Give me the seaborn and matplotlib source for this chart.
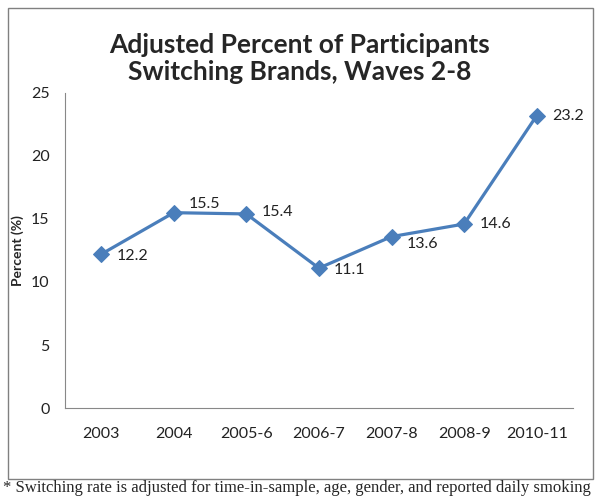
import pandas as pd
import matplotlib.pyplot as plt
import matplotlib.patches as patches
import seaborn as sns

# Values
waves = ['2003', '2004', '2005-6', '2006-7', '2007-8', '2008-9', '2010-11']
percent = [12.2, 15.5, 15.4, 11.1, 13.6, 14.6, 23.2]
label_dy = [-1.5, 6.5, 1.5, -1, -5, 0, 0]

df = pd.DataFrame({'wave': waves, 'percent': percent})

sns.set_theme(style='white')
plt.rcParams['font.family'] = ['Lato', 'DejaVu Sans']

fig = plt.figure(figsize=(6, 4.97), dpi=100)
ax = fig.add_axes([0.108, 0.179, 0.847, 0.634])

sns.lineplot(data=df, x='wave', y='percent', sort=False, marker='D',
             color='#4a7ebb', linewidth=2.3, markersize=8,
             markeredgecolor='#4a7ebb', ax=ax)

for i, (v, dy) in enumerate(zip(percent, label_dy)):
    ax.annotate(f'{v:.1f}', (i, v), xytext=(11, dy), textcoords='offset points',
                ha='left', va='center', fontsize=11.5, color='#222222')

ax.set_xlim(-0.5, len(waves) - 0.5)
ax.set_ylim(0, 25)
ax.set_yticks(range(0, 26, 5))
ax.set_xticks(range(len(waves)))
ax.set_xticklabels(waves)
ax.set_xticks([i - 0.5 for i in range(len(waves) + 1)], minor=True)
ax.tick_params(axis='x', which='major', length=0, pad=14, labelsize=11.5, colors='#222222')
ax.tick_params(axis='x', which='minor', length=5, color='#888888', width=0.8, direction='out')
ax.tick_params(axis='y', length=5, color='#888888', width=0.8, direction='out', labelsize=11.5,
               colors='#222222', pad=6)
ax.tick_params(axis='y', color='#888888')
ax.set_xlabel('')
ax.set_ylabel('Percent (%)', fontsize=10, fontweight='bold', labelpad=5)

sns.despine(ax=ax)
for side in ['left', 'bottom']:
    ax.spines[side].set_color('#888888')
    ax.spines[side].set_linewidth(0.8)

fig.text(0.5, 0.882, 'Adjusted Percent of Participants\nSwitching Brands, Waves 2-8',
         ha='center', va='center', fontsize=19, fontweight='bold', linespacing=1.15)

box = patches.Rectangle((8 / 600, 1 - 479 / 497), 585 / 600, 471 / 497,
                        transform=fig.transFigure, fill=False,
                        edgecolor='#808080', linewidth=1)
fig.patches.append(box)

fig.text(0.005, 1 - 488 / 497,
         '* Switching rate is adjusted for time-in-sample, age, gender, and reported daily smoking',
         ha='left', va='center', fontsize=12, family=['Liberation Serif', 'DejaVu Serif'])

fig.savefig('out.png', dpi=100)
